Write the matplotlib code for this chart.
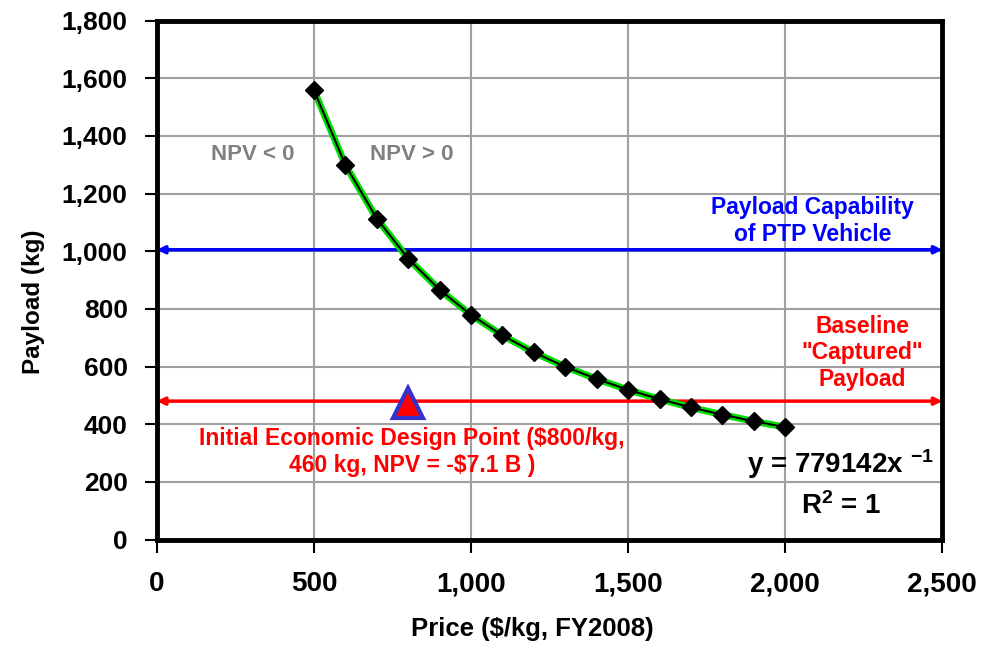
import matplotlib
matplotlib.use("Agg")
import matplotlib.pyplot as plt
from matplotlib.ticker import FuncFormatter

plt.rcParams['font.family'] = ['Liberation Sans', 'DejaVu Sans']
plt.rcParams['font.weight'] = 'bold'
plt.rcParams['mathtext.fontset'] = 'custom'
plt.rcParams['mathtext.rm'] = 'Liberation Sans:bold'
plt.rcParams['mathtext.bf'] = 'Liberation Sans:bold'
plt.rcParams['mathtext.default'] = 'bf'

# data
price = [500, 600, 700, 800, 900, 1000, 1100, 1200, 1300, 1400, 1500,
         1600, 1700, 1800, 1900, 2000]
payload = [1558, 1299, 1113, 974, 866, 779, 708, 649, 599, 557, 519,
           487, 458, 433, 410, 390]

ptp_capability = 1005
captured_payload = 480
design_price = 800
design_payload = 473

fig = plt.figure(figsize=(9.93, 6.52), dpi=100)
ax = fig.add_axes([0.158, 0.1725, 0.791, 0.796])

# trendline (green) under the data line
ax.plot(price, payload, color='#00dd00', lw=5, zorder=3)
ax.plot(price, payload, color='black', lw=1.5, marker='D', ms=9,
        zorder=4)

# horizontal reference lines, arrow heads at both ends
for yv, col in [(ptp_capability, '#0000ff'), (captured_payload, '#ff0000')]:
    ax.annotate('', xy=(0, yv), xytext=(2500, yv),
                arrowprops=dict(arrowstyle='<|-|>', ec=col, fc='white',
                                lw=2.5, mutation_scale=11,
                                shrinkA=0, shrinkB=0),
                zorder=2)

ax.plot([design_price], [design_payload], marker='^', ms=21,
        color='#ff0000', mec='#3333cc', mew=3, zorder=5)

ax.set_xlim(0, 2500)
ax.set_ylim(0, 1800)
ax.set_xticks(range(0, 2501, 500))
ax.set_yticks(range(0, 1801, 200))
fmt = FuncFormatter(lambda v, p: f'{int(v):,}')
ax.xaxis.set_major_formatter(fmt)
ax.yaxis.set_major_formatter(fmt)
ax.tick_params(axis='both', width=1.5, length=9, color='black',
               direction='out')
ax.tick_params(axis='x', labelsize=20, pad=14)
ax.tick_params(axis='y', labelsize=19, pad=12)
for lab in ax.get_xticklabels() + ax.get_yticklabels():
    lab.set_fontweight('bold')

ax.grid(True, color='#a0a0a0', lw=1.5)
ax.set_axisbelow(True)
for s in ax.spines.values():
    s.set_linewidth(3.5)

ax.set_xlabel('Price ($/kg, FY2008)', fontsize=18.5, fontweight='bold')
ax.set_ylabel('Payload (kg)', fontsize=17.5, fontweight='bold')
ax.xaxis.set_label_coords(0.478, -0.150)
ax.yaxis.set_label_coords(-0.143, 0.458)

ax.text(306, 1334, 'NPV < 0', color='#808080', fontsize=16,
        fontweight='bold', ha='center', va='center')
ax.text(812, 1334, 'NPV > 0', color='#808080', fontsize=16,
        fontweight='bold', ha='center', va='center')
ax.text(2086, 1105, 'Payload Capability\nof PTP Vehicle', color='#0000ff',
        fontsize=16.5, fontweight='bold', ha='center', va='center',
        linespacing=1.2)
ax.text(2245, 647, 'Baseline\n"Captured"\nPayload', color='#ff0000',
        fontsize=16.5, fontweight='bold', ha='center', va='center',
        linespacing=1.2)
ax.text(812, 303, 'Initial Economic Design Point ($800/kg,\n'
        '460 kg, NPV = -$7.1 B )', color='#ff0000', fontsize=16.5,
        fontweight='bold', ha='center', va='center', linespacing=1.2)
ax.text(2177, 262, r'y = 779142x $^{-1}$', color='black', fontsize=20,
        fontweight='bold', ha='center', va='center')
ax.text(2177, 116, r'R$^{2}$ = 1', color='black', fontsize=20,
        fontweight='bold', ha='center', va='center')

fig.savefig('out.png', dpi=100)
